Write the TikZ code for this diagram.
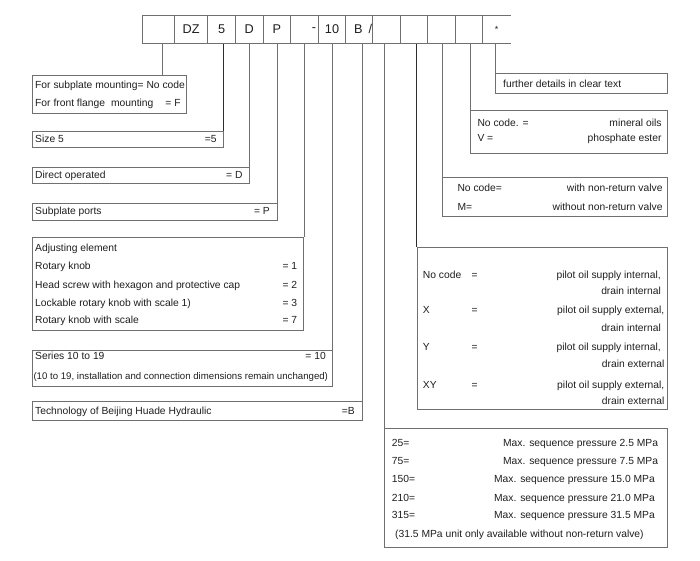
\documentclass[tikz,border=0pt]{standalone}
\usepackage{fontspec}
\setmainfont{Liberation Sans}
\usepackage{tikz}
\usetikzlibrary{positioning, calc}
\definecolor{linegray}{RGB}{112,112,112}
\definecolor{linedark}{RGB}{45,45,45}
\definecolor{inkgray}{RGB}{30,30,30}
\tikzset{
  cell/.style={rectangle, draw=linegray, line width=0.8pt, anchor=north west,
    minimum height=27.7pt, inner sep=0pt, font=\fontsize{12.7}{14}\selectfont,
    text=inkgray},
  box/.style={rectangle, draw=linegray, line width=0.8pt, anchor=north west,
    inner sep=0pt},
  ltext/.style={anchor=base west, inner sep=0pt,
    font=\fontsize{10.3}{12}\selectfont, text=inkgray},
  rtext/.style={ltext, anchor=base east},
  ctext/.style={ltext, anchor=base},
  lead/.style={draw=linegray, line width=0.8pt},
  darklead/.style={draw=linedark, line width=0.9pt}
}

\begin{document}
\begin{tikzpicture}[x=1pt, y=-1pt]
  \useasboundingbox (0,0) rectangle (700,560);

  % Type code row
  \node[cell, minimum width=32.3pt] (cblank) at (142,15) {};
  \node[cell, minimum width=33pt] (cdz) at (174.3,15) {DZ};
  \node[cell, minimum width=27.7pt] (csize) at (207.3,15) {5};
  \node[cell, minimum width=27.7pt] (cdir) at (235,15) {D};
  \node[cell, minimum width=27.3pt] (cport) at (262.7,15) {P};
  \node[cell, minimum width=28.3pt] (cadj) at (290,15) {\hspace{19pt}-};
  \node[cell, minimum width=26.7pt] (cser) at (318.3,15) {10};
  \node[cell, minimum width=27.3pt] (ctech) at (345,15) {\hspace{8pt}B\hspace{6pt}/};
  \node[cell, minimum width=27.7pt] (cpres) at (372.3,15) {};
  \node[cell, minimum width=27.3pt] (cpilot) at (400,15) {};
  \node[cell, minimum width=27.7pt] (ccheck) at (427.3,15) {};
  \node[cell, minimum width=27.3pt] (coil) at (455,15) {};
  \node[cell, minimum width=27.7pt, draw=none,
    font=\fontsize{9}{10}\selectfont] (cmore) at (482.3,15) {*};
  \draw[lead] (cmore.north west) -- (cmore.north east);
  \draw[lead] (cmore.south west) -- (cmore.south east);

  % Left column of boxes
  \node[box, minimum width=154pt, minimum height=37.7pt] (mount) at (31.7,75) {};
  \node[box, minimum width=191pt, minimum height=16.3pt] (size) at (31.7,131) {};
  \node[box, minimum width=217.3pt, minimum height=16pt] (direct) at (31.7,167.3) {};
  \node[box, minimum width=245pt, minimum height=17.3pt] (ports) at (31.7,202.7) {};
  \node[box, minimum width=271.6pt, minimum height=92.7pt] (adjust) at (31.7,237.3) {};
  \node[box, minimum width=300pt, minimum height=36pt] (series) at (31.7,350) {};
  \node[box, minimum width=330pt, minimum height=19pt] (tech) at (31.7,401) {};

  % Right column of boxes
  \node[box, minimum width=172.3pt, minimum height=20.6pt] (more) at (495,72.7) {};
  \node[box, minimum width=197.3pt, minimum height=42.7pt] (oil) at (470,110) {};
  \node[box, minimum width=225.3pt, minimum height=39.3pt] (check) at (442,176.7) {};
  \node[box, minimum width=250.6pt, minimum height=162.6pt] (pilot) at (416.7,246.7) {};
  \node[box, minimum width=282.4pt, minimum height=119pt] (press) at (384.3,428.3) {};

  % Leaders from the code row
  \coordinate (mountlead) at ($(mount.north east)+(-24,0)$);
  \draw[lead] (mountlead |- cblank.south) -- (mountlead);
  \draw[darklead] (size.north east |- csize.south) -- (size.north east);
  \draw[lead] (direct.north east |- cdir.south) -- (direct.north east);
  \draw[lead] (ports.north east |- cport.south) -- (ports.north east);
  \draw[lead] (adjust.north east |- cadj.south) -- (adjust.north east);
  \draw[lead] (series.north east |- cser.south) -- (series.north east);
  \draw[lead] (tech.north east |- ctech.south) -- (tech.north east);
  \draw[lead] (press.north west |- cpres.south) -- (press.north west);
  \draw[darklead] (pilot.north west |- cpilot.south) -- (pilot.north west);
  \draw[lead] (check.north west |- ccheck.south) -- (check.north west);
  \draw[lead] (oil.north west |- coil.south) -- (oil.north west);
  \draw[lead] (more.north west |- cmore.south) -- (more.north west);

  % Left texts
  \node[ltext] (mnt1) at (35,88.7) {For subplate mounting= No code};
  \node[ltext] (mnt2) at (35,106.7) {For front flange\hspace{6pt}mounting\hspace{12pt}= F};
  \node[ltext] (sz1) at (35,142.7) {Size 5};
  \node[rtext] (sz2) at (216.7,142.7) {=5};
  \node[ltext] (dir1) at (35,178.7) {Direct operated};
  \node[rtext] (dir2) at (242.7,178.7) {= D};
  \node[ltext] (prt1) at (35,214.7) {Subplate ports};
  \node[rtext] (prt2) at (270,214.7) {= P};
  \node[ltext] (adj0) at (35,251) {Adjusting element};
  \node[ltext] (adj1) at (35,269.4) {Rotary knob};
  \node[rtext] (adj1v) at (297.3,269.4) {= 1};
  \node[ltext] (adj2) at (35,288) {Head screw with hexagon and protective cap};
  \node[rtext] (adj2v) at (297.3,288) {= 2};
  \node[ltext] (adj3) at (35,306) {Lockable rotary knob with scale 1)};
  \node[rtext] (adj3v) at (297.3,306) {= 3};
  \node[ltext] (adj4) at (35,323.7) {Rotary knob with scale};
  \node[rtext] (adj4v) at (297.3,323.7) {= 7};
  \node[ltext] (ser1) at (35,359.7) {Series 10 to 19};
  \node[rtext] (ser1v) at (326,359.7) {= 10};
  \node[ltext, font=\fontsize{9.65}{12}\selectfont] (ser2) at (33.3,379)
    {(10 to 19, installation and connection dimensions remain unchanged)};
  \node[ltext] (tec1) at (35,414.7) {Technology of Beijing Huade Hydraulic};
  \node[rtext] (tec1v) at (355,414.7) {=B};

  % Right texts
  \node[ltext] (mor1) at (503,87) {further details in clear text};
  \node[ltext] (oil1) at (477.3,126) {No code. =};
  \node[rtext] (oil1v) at (661.7,126) {mineral oils};
  \node[ltext] (oil2) at (477.3,141) {V =};
  \node[rtext] (oil2v) at (661.7,141) {phosphate ester};
  \node[ltext] (chk1) at (457.3,191.4) {No code=};
  \node[rtext] (chk1v) at (662.7,191.4) {with non-return valve};
  \node[ltext] (chk2) at (457.3,210.4) {M=};
  \node[rtext] (chk2v) at (662.7,210.4) {without non-return valve};

  \node[ltext] (pil1) at (422.7,278) {No code};
  \node[ctext] (pil1e) at (474.5,278) {=};
  \node[rtext] (pil1v) at (661,278) {pilot oil supply internal,};
  \node[rtext] (pil1d) at (661,294.7) {drain internal};
  \node[ltext] (pil2) at (422.7,313.7) {X};
  \node[ctext] (pil2e) at (474.5,313.7) {=};
  \node[rtext] (pil2v) at (664.5,313.7) {pilot oil supply external,};
  \node[rtext] (pil2d) at (661,331.4) {drain internal};
  \node[ltext] (pil3) at (422.7,350.4) {Y};
  \node[ctext] (pil3e) at (474.5,350.4) {=};
  \node[rtext] (pil3v) at (661,350.4) {pilot oil supply internal,};
  \node[rtext] (pil3d) at (664.5,367.7) {drain external};
  \node[ltext] (pil4) at (422.7,388) {XY};
  \node[ctext] (pil4e) at (474.5,388) {=};
  \node[rtext] (pil4v) at (664.5,388) {pilot oil supply external,};
  \node[rtext] (pil4d) at (664.5,404.7) {drain external};

  \node[ltext] (prs1) at (391.7,446.4) {25=};
  \node[rtext] (prs1v) at (658.3,446.4) {Max. sequence pressure 2.5 MPa};
  \node[ltext] (prs2) at (391.7,464.7) {75=};
  \node[rtext] (prs2v) at (658.3,464.7) {Max. sequence pressure 7.5 MPa};
  \node[ltext] (prs3) at (391.7,482.7) {150=};
  \node[rtext] (prs3v) at (655,482.7) {Max. sequence pressure 15.0 MPa};
  \node[ltext] (prs4) at (391.7,501) {210=};
  \node[rtext] (prs4v) at (655,501) {Max. sequence pressure 21.0 MPa};
  \node[ltext] (prs5) at (391.7,518.7) {315=};
  \node[rtext] (prs5v) at (655,518.7) {Max. sequence pressure 31.5 MPa};
  \node[ltext] (prs6) at (395,537) {(31.5 MPa unit only available without non-return valve)};
\end{tikzpicture}
\end{document}
